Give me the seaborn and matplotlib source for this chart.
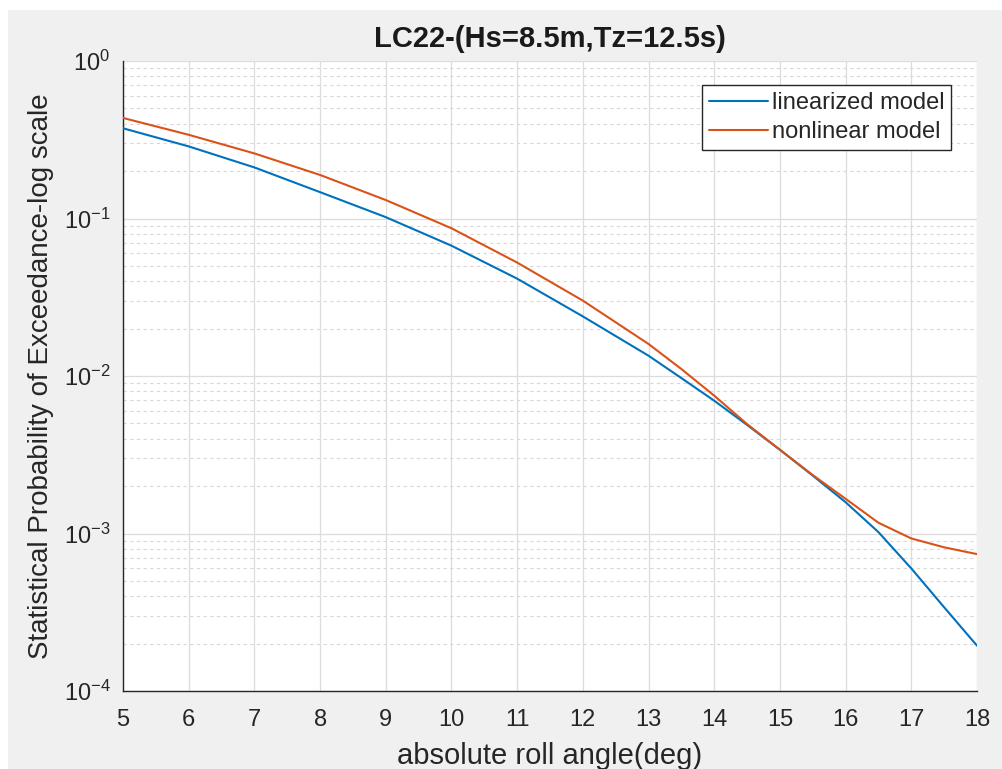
import matplotlib
matplotlib.use("Agg")
import matplotlib.pyplot as plt
import numpy as np
import pandas as pd
import seaborn as sns
from matplotlib.patches import Rectangle
from matplotlib.ticker import LogLocator, NullFormatter

# values
angle = [5, 6, 7, 8, 9, 10, 11, 12, 13, 13.5, 14, 14.5, 15, 15.5, 16, 16.5, 17, 17.5, 18]
p_linear = [0.374, 0.287, 0.211, 0.147, 0.102, 0.0672, 0.0415, 0.0239, 0.01345, 0.0097,
            0.00697, 0.00489, 0.0034, 0.00233, 0.00158, 0.00102, 0.0006, 0.00034, 0.000194]
p_nonlinear = [0.435, 0.340, 0.259, 0.189, 0.131, 0.0867, 0.0525, 0.0301, 0.01597, 0.01107,
               0.0075, 0.00495, 0.0034, 0.00235, 0.00166, 0.00117, 0.00093, 0.000817, 0.00074]
labels = ["linearized model", "nonlinear model"]
colors = ["#0072BD", "#D95319"]

df = pd.DataFrame({
    "angle": angle * 2,
    "prob": p_linear + p_nonlinear,
    "model": [labels[0]] * len(angle) + [labels[1]] * len(angle),
})

sns.set_theme(style="white")
plt.rcParams["font.family"] = ["Liberation Sans", "DejaVu Sans"]
plt.rcParams["mathtext.fontset"] = "custom"
plt.rcParams["mathtext.rm"] = "Liberation Sans"
plt.rcParams["mathtext.it"] = "Liberation Sans:italic"
plt.rcParams["mathtext.bf"] = "Liberation Sans:bold"
plt.rcParams["axes.unicode_minus"] = False

fig = plt.figure(figsize=(10.02, 7.69), dpi=100)
fig.patch.set_facecolor("white")
fig.patches.append(Rectangle((8 / 1002, 0), 1, 1 - 10 / 769, transform=fig.transFigure,
                             facecolor="#f0f0f0", edgecolor="none", zorder=-10))
ax = fig.add_axes([123 / 1002, 1 - 691 / 769, 854 / 1002, 630 / 769])
ax.set_facecolor("white")

sns.lineplot(data=df, x="angle", y="prob", hue="model", palette=colors,
             linewidth=1.5, sort=False, ax=ax, zorder=3)

ax.set_yscale("log")
ax.set_xlim(5, 18)
ax.set_ylim(1e-4, 1)
ax.set_xticks(range(5, 19))
ax.yaxis.set_major_locator(LogLocator(base=10, numticks=10))
ax.yaxis.set_minor_locator(LogLocator(base=10, subs=np.arange(2, 10), numticks=20))
ax.yaxis.set_minor_formatter(NullFormatter())

ax.grid(True, which="major", axis="both", color="#dcdcdc", linewidth=0.9, linestyle="-")
ax.grid(True, which="minor", axis="y", color="#d8d8d8", linewidth=0.8, linestyle=(0, (3, 3)))
ax.set_axisbelow(True)

for side in ["top", "right"]:
    ax.spines[side].set_visible(False)
for side in ["left", "bottom"]:
    ax.spines[side].set_color("#262626")
    ax.spines[side].set_linewidth(1.0)

ax.tick_params(axis="both", which="major", direction="in", length=7, width=1.0,
               color="#262626", labelsize=17, labelcolor="#262626")
ax.tick_params(axis="y", which="minor", direction="in", length=4, width=0.8, color="#262626")
ax.tick_params(axis="x", which="major", pad=13)
ax.tick_params(axis="y", which="major", pad=9)

ax.set_title("LC22-(Hs=8.5m,Tz=12.5s)", fontsize=21, fontweight="bold", color="#1a1a1a", pad=10)
ax.set_xlabel("absolute roll angle(deg)", fontsize=21, color="#262626", labelpad=8)
ax.set_ylabel("Statistical Probability of Exceedance-log scale", fontsize=20,
              color="#262626", labelpad=7)

leg = ax.legend(loc="upper right", bbox_to_anchor=(0.970, 0.962), borderaxespad=0,
                fontsize=17, frameon=True, fancybox=False, handlelength=2.5,
                handletextpad=0.15, borderpad=0.3, labelspacing=0.3)
leg.get_frame().set_edgecolor("#262626")
leg.get_frame().set_linewidth(1.0)
leg.get_frame().set_facecolor("white")
leg.get_frame().set_alpha(1)
for h in leg.get_lines():
    h.set_linewidth(1.5)

fig.savefig("out.png", dpi=100)
